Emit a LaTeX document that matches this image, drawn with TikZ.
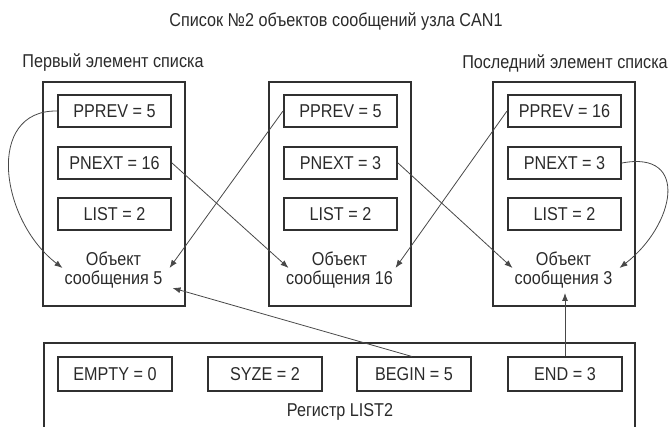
\documentclass[tikz,border=0pt]{standalone}
\usepackage{fontspec}
\setmainfont{Liberation Sans}[FakeStretch=0.87]
\usetikzlibrary{arrows.meta,calc}
\definecolor{boxc}{HTML}{303030}
\definecolor{linec}{HTML}{484848}
\definecolor{txtc}{HTML}{2A2A2A}
\begin{document}
\begin{tikzpicture}[x=1pt,y=-1pt,
  every node/.style={text=txtc,font=\fontsize{18.6}{19}\selectfont,inner sep=0pt},
  outerbox/.style={draw=boxc,line width=2pt,minimum width=142pt,minimum height=224pt},
  field/.style={draw=boxc,line width=2pt,minimum width=113pt,minimum height=32pt},
  regfield/.style={draw=boxc,line width=2pt,minimum width=114pt,minimum height=33pt},
  conn/.style={draw=linec,line width=0.8pt,-{Latex[length=8pt,width=6pt]}},
  objtext/.style={align=center}]
\useasboundingbox (0,0) rectangle (669,427);
\clip (0,0) rectangle (669,427);
% titles
\node (title) at (336,22) {Список №2 объектов сообщений узла CAN1};
\node (t1) at (113,63) {Первый элемент списка};
\node (t3) at (565,63) {Последний элемент списка};
% element boxes
\foreach \i/\cx/\pp/\pn in {1/113.5/5/16, 2/339.5/5/3, 3/563.5/16/3}{
  \node[outerbox] (box\i) at (\cx,194) {};
  \node[field] (pp\i) at (\cx+1,111) {PPREV = \pp};
  \node[field] (pn\i) at (\cx+1,163) {PNEXT = \pn};
  \node[field] (ls\i) at (\cx+1,214.5) {LIST = 2};
}
\node[objtext] (obj1) at (113.5,270) {Объект\\сообщения 5};
\node[objtext] (obj2) at (339.5,270) {Объект\\сообщения 16};
\node[objtext] (obj3) at (563.5,270) {Объект\\сообщения 3};
% arrow end points
\foreach \i in {1,2,3}{
  \coordinate (ol\i) at ($(obj\i.center)+(-51,-2)$);
  \coordinate (or\i) at ($(obj\i.center)+(56,-2)$);
}
\coordinate (ob1) at ($(obj1.center)+(59,18)$);
\coordinate (ob3) at ($(obj3.center)+(1.5,23)$);
% register box
\node[draw=boxc,line width=2pt,minimum width=591pt,minimum height=100pt] (reg) at (339.5,393) {};
\node[regfield] (empty) at (115,374) {EMPTY = 0};
\node[regfield] (syze) at (265,374) {SYZE = 2};
\node[regfield] (begin) at (414,374) {BEGIN = 5};
\node[regfield] (end) at (565,374) {END = 3};
\node (reglabel) at (340,412) {Регистр LIST2};
% connectors
\draw[conn] (pp1.west) .. controls (-15,110) and (0,220) .. (ol1);
\draw[conn] (pn1.east) -- (ol2);
\draw[conn] (pp2.west) -- (or1);
\draw[conn] (pn2.east) -- (ol3);
\draw[conn] (pp3.west) -- (or2);
\draw[conn] (pn3.east) .. controls (690,150) and (675,225) .. (or3);
\draw[conn] ($(begin.north)+(-2,0)$) -- (ob1);
\draw[conn] (end.north) -- (ob3);
\end{tikzpicture}
\end{document}
